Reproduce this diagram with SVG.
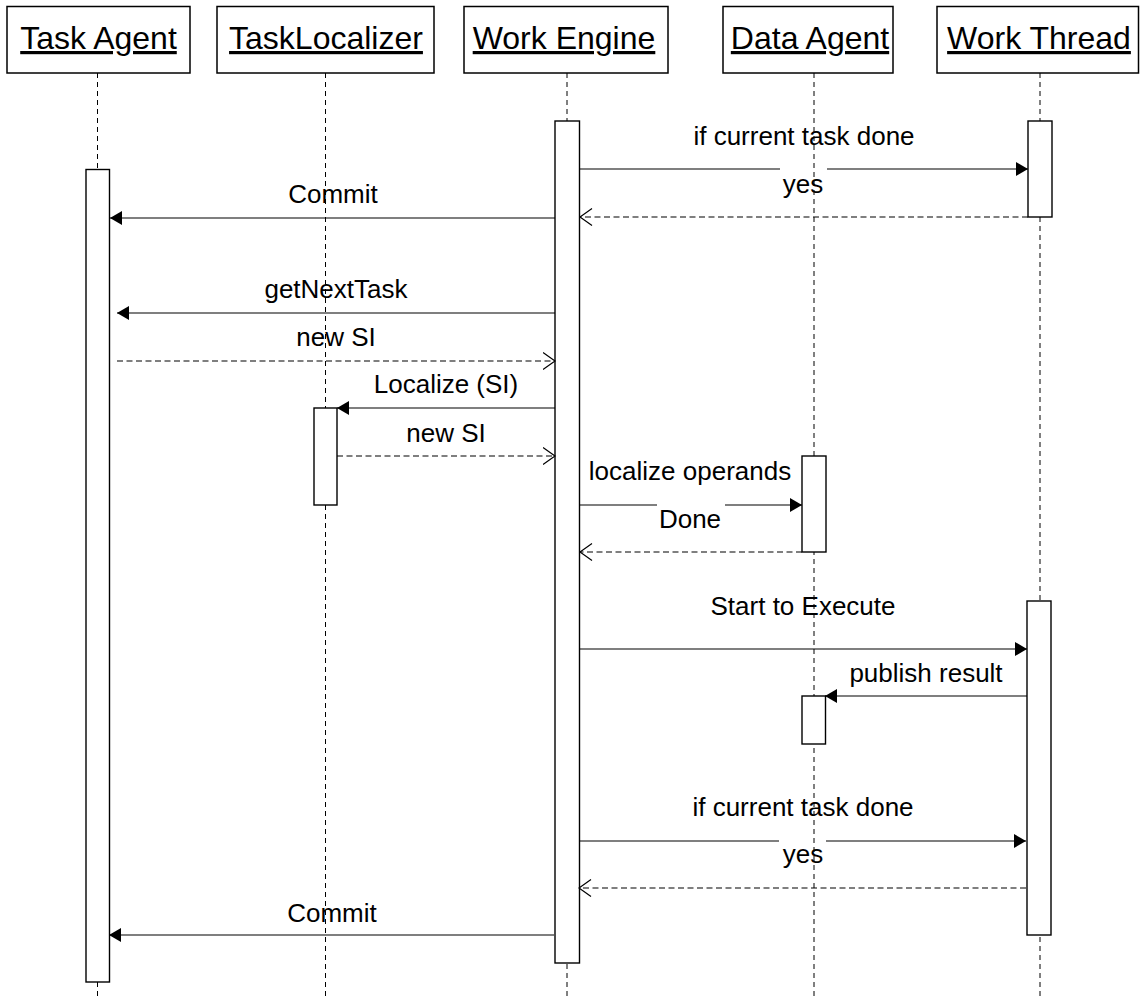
<svg xmlns="http://www.w3.org/2000/svg" width="1143" height="998" viewBox="0 0 1143 998">
  <style>
    text { font-family: "Liberation Sans", Arial, Helvetica, sans-serif; fill: #000; }
    .head { font-size: 32px; text-anchor: middle; text-decoration: underline; }
    .msg { font-size: 26px; text-anchor: middle; }
    .box { fill: #fff; stroke: #000; stroke-width: 1.5; }
    .life { stroke: #000; stroke-width: 1; stroke-dasharray: 5 4; fill: none; }
    .bar { fill: #fff; stroke: #000; stroke-width: 1.4; }
    .call { stroke: #000; stroke-width: 1.2; fill: none; marker-end: url(#solid); }
    .ret { stroke: #000; stroke-width: 1.1; fill: none; stroke-dasharray: 6 3.5; marker-end: url(#open); }
  </style>
  <defs>
    <marker id="solid" markerUnits="userSpaceOnUse" markerWidth="13" markerHeight="15" refX="12" refY="7" orient="auto">
      <path d="M0,0 L12,7 L0,14 Z" fill="#000"/>
    </marker>
    <marker id="open" markerUnits="userSpaceOnUse" markerWidth="14" markerHeight="20" refX="12.5" refY="9" orient="auto">
      <path d="M0.5,0.5 L12.5,9 L0.5,17.5" fill="none" stroke="#000" stroke-width="1.2"/>
    </marker>
  </defs>
  <rect width="1143" height="998" fill="#fff"/>

  <!-- lifelines -->
  <g id="lifelines">
    <line class="life" x1="97.5" y1="73" x2="97.5" y2="998"/>
    <line class="life" x1="325.5" y1="73" x2="325.5" y2="998"/>
    <line class="life" x1="567" y1="73" x2="567" y2="998"/>
    <line class="life" x1="814" y1="73" x2="814" y2="998"/>
    <line class="life" x1="1040" y1="73" x2="1040" y2="998"/>
  </g>

  <!-- participants -->
  <g id="task-agent">
    <rect class="box" x="7" y="6.5" width="183" height="66.5"/>
    <text class="head" x="98.5" y="49">Task Agent</text>
    <rect class="bar" x="86" y="169.5" width="23.5" height="812.5"/>
  </g>
  <g id="task-localizer">
    <rect class="box" x="217" y="6.5" width="217" height="66.5"/>
    <text class="head" x="326" y="49">TaskLocalizer</text>
    <rect class="bar" x="314" y="408" width="23" height="97"/>
  </g>
  <g id="work-engine">
    <rect class="box" x="464" y="6.5" width="204" height="66.5"/>
    <text class="head" x="564" y="49">Work Engine</text>
    <rect class="bar" x="555" y="121" width="24.5" height="842"/>
  </g>
  <g id="data-agent">
    <rect class="box" x="723" y="6.5" width="170" height="66.5"/>
    <text class="head" x="810" y="49">Data Agent</text>
    <rect class="bar" x="802" y="456" width="24" height="96"/>
    <rect class="bar" x="802" y="696" width="23.5" height="48"/>
  </g>
  <g id="work-thread">
    <rect class="box" x="937" y="6.5" width="201.5" height="66.5" stroke-width="2"/>
    <text class="head" x="1039" y="49">Work Thread</text>
    <rect class="bar" x="1028" y="121" width="24" height="96"/>
    <rect class="bar" x="1027" y="601" width="24" height="334"/>
  </g>

  <!-- messages -->
  <g id="connectors">
    <path class="call" d="M580 169 H780 M827 169 H1028"/>
    <path class="ret" d="M1028 217 H580"/>
    <path class="call" d="M555 218 H110"/>
    <path class="call" d="M555 313 H117"/>
    <path class="ret" d="M117 361 H555"/>
    <path class="call" d="M555 408 H337"/>
    <path class="ret" d="M337 456 H555"/>
    <path class="call" d="M580 505 H657 M725 505 H802"/>
    <path class="ret" d="M802 552 H580"/>
    <path class="call" d="M580 649 H1027"/>
    <path class="call" d="M1027 696 H825"/>
    <path class="call" d="M579 841 H779 M826 841 H1026"/>
    <path class="ret" d="M1026 888 H579"/>
    <path class="call" d="M554 935 H109"/>
  </g>

  <g id="labels">
    <text class="msg" x="804" y="145">if current task done</text>
    <text class="msg" x="803" y="193">yes</text>
    <text class="msg" x="333" y="203">Commit</text>
    <text class="msg" x="336" y="298">getNextTask</text>
    <text class="msg" x="336" y="346">new SI</text>
    <text class="msg" x="446" y="393">Localize (SI)</text>
    <text class="msg" x="446" y="442">new SI</text>
    <text class="msg" x="690" y="480">localize operands</text>
    <text class="msg" x="690" y="528">Done</text>
    <text class="msg" x="803" y="615">Start to Execute</text>
    <text class="msg" x="926" y="682">publish result</text>
    <text class="msg" x="803" y="816">if current task done</text>
    <text class="msg" x="803" y="863">yes</text>
    <text class="msg" x="332" y="922">Commit</text>
  </g>
</svg>
